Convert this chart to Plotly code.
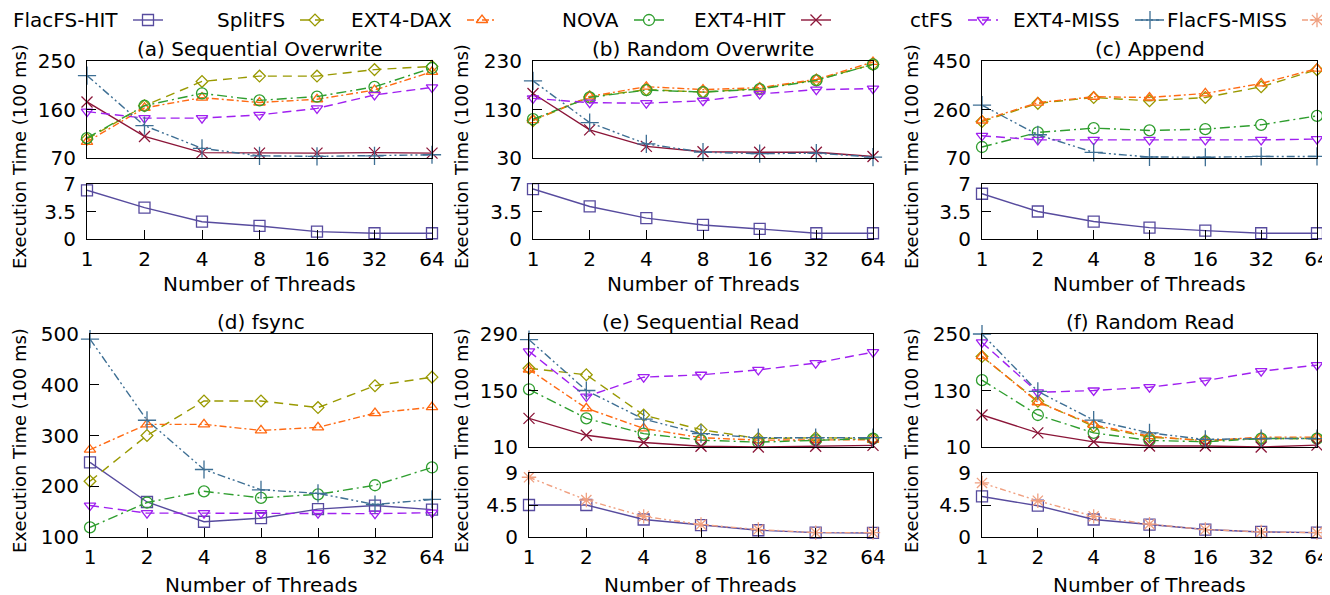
import math
import plotly.graph_objects as go

W, H = 1330, 595
OFF = 8  # page body margin of the html page

threads = [1, 2, 4, 8, 16, 32, 64]
thread_labels = ["1", "2", "4", "8", "16", "32", "64"]
series_names = ["FlacFS-HIT", "SplitFS", "EXT4-DAX", "NOVA", "EXT4-HIT", "ctFS", "EXT4-MISS", "FlacFS-MISS"]

# (a) Sequential Overwrite
a_splitfs = [105, 167, 212, 222, 222, 234, 240]
a_ext4dax = [100, 163, 182, 173, 179, 196, 230]
a_nova = [107, 167, 190, 177, 184, 202, 237]
a_ext4hit = [174, 110, 80, 79, 79, 80, 79]
a_ctfs = [156, 144, 144, 150, 162, 187, 201]
a_ext4miss = [223, 130, 88, 74, 73, 74, 76]
a_flacfs_hit = [6.2, 4.0, 2.2, 1.66, 0.94, 0.73, 0.73]

# (b) Random Overwrite
b_splitfs = [107, 156, 171, 166, 173, 191, 223]
b_ext4dax = [108, 157, 177, 171, 175, 192, 228]
b_nova = [110, 155, 170, 166, 172, 190, 223]
b_ext4hit = [163, 88, 54, 43, 42, 42, 33]
b_ctfs = [153, 144, 143, 148, 162, 171, 173]
b_ext4miss = [189, 103, 59, 42, 39, 40, 32]
b_flacfs_hit = [6.36, 4.14, 2.65, 1.79, 1.28, 0.73, 0.73]

# (c) Append
c_splitfs = [213, 284, 307, 294, 307, 349, 416]
c_ext4dax = [217, 287, 310, 307, 323, 362, 420]
c_nova = [113, 170, 187, 178, 183, 200, 235]
c_ctfs = [157, 141, 141, 141, 141, 141, 144]
c_ext4miss = [277, 161, 92, 74, 73, 76, 76]
c_flacfs_hit = [5.76, 3.5, 2.22, 1.45, 1.07, 0.73, 0.73]

# (d) fsync
d_flacfs_hit = [247, 169, 130, 137, 155, 162, 154]
d_splitfs = [210, 300, 368, 368, 355, 398, 415]
d_ext4dax = [272, 322, 322, 310, 316, 344, 356]
d_nova = [119, 168, 190, 177, 184, 202, 237]
d_ctfs = [162, 147, 147, 147, 147, 146, 148]
d_ext4miss = [490, 330, 233, 193, 186, 164, 174]

# (e) Sequential Read
e_splitfs = [205, 189, 89, 53, 31, 33, 31]
e_ext4dax = [202, 106, 56, 33, 27, 28, 28]
e_nova = [153, 81, 43, 27, 22, 27, 31]
e_ext4hit = [81, 39, 21, 12, 10, 12, 14]
e_ctfs = [247, 135, 183, 189, 201, 218, 245]
e_ext4miss = [276, 150, 79, 43, 33, 33, 33]
e_flacfs_hit = [4.5, 4.5, 2.46, 1.66, 0.95, 0.62, 0.57]
e_flacfs_miss = [8.4, 5.2, 2.9, 1.75, 1.05, 0.62, 0.62]

# (f) Random Read
f_splitfs = [202, 107, 54, 31, 24, 28, 28]
f_ext4dax = [203, 105, 57, 33, 23, 31, 31]
f_nova = [152, 78, 40, 24, 21, 28, 28]
f_ext4hit = [78, 40, 21, 12, 12, 10, 14]
f_ctfs = [232, 126, 130, 137, 151, 171, 184]
f_ext4miss = [250, 128, 67, 40, 26, 28, 28]
f_flacfs_hit = [5.7, 4.4, 2.46, 1.75, 1.05, 0.71, 0.62]
f_flacfs_miss = [7.6, 5.1, 2.9, 1.8, 1.05, 0.71, 0.62]

FONT = "DejaVu Sans"

styles = {
    "FlacFS-HIT": dict(color="#574b9e", symbol="square-open", dash="solid", size=11),
    "SplitFS": dict(color="#999900", symbol="diamond-open", dash="9px,6px", size=9),
    "EXT4-DAX": dict(color="#ff6a13", symbol="triangle-up-open", dash="7px,3px,2px,3px", size=10),
    "NOVA": dict(color="#2f9e2f", symbol="circle-open", dash="10px,4px,2px,4px", size=11),
    "EXT4-HIT": dict(color="#8b1538", symbol="x-thin-open", dash="solid", size=11),
    "ctFS": dict(color="#a020f0", symbol="triangle-down-open", dash="9px,5px", size=10),
    "EXT4-MISS": dict(color="#3e6f94", symbol="cross-thin-open", dash="8px,3px,2px,3px,2px,3px", size=13),
    "FlacFS-MISS": dict(color="#f0a080", symbol="asterisk-open", dash="6px,3px,2px,3px,2px,3px", size=12),
}

panels = [
    dict(title="(a) Sequential Overwrite", xpx=(87, 432), top=(61, 158), bottom=(184, 239),
         trange=[70, 250], tticks=[70, 160, 250], brange=[0, 7], bticks=[0, 3.5, 7],
         tseries={"SplitFS": a_splitfs, "EXT4-DAX": a_ext4dax, "NOVA": a_nova, "EXT4-HIT": a_ext4hit,
                  "ctFS": a_ctfs, "EXT4-MISS": a_ext4miss},
         bseries={"FlacFS-HIT": a_flacfs_hit}, ylab=(19, 157), xlab_y=284, title_y=49),
    dict(title="(b) Random Overwrite", xpx=(533, 873), top=(61, 158), bottom=(184, 239),
         trange=[30, 230], tticks=[30, 130, 230], brange=[0, 7], bticks=[0, 3.5, 7],
         tseries={"SplitFS": b_splitfs, "EXT4-DAX": b_ext4dax, "NOVA": b_nova, "EXT4-HIT": b_ext4hit,
                  "ctFS": b_ctfs, "EXT4-MISS": b_ext4miss},
         bseries={"FlacFS-HIT": b_flacfs_hit}, ylab=(461, 157), xlab_y=284, title_y=49),
    dict(title="(c) Append", xpx=(982, 1317), top=(61, 158), bottom=(184, 239),
         trange=[70, 450], tticks=[70, 260, 450], brange=[0, 7], bticks=[0, 3.5, 7],
         tseries={"SplitFS": c_splitfs, "EXT4-DAX": c_ext4dax, "NOVA": c_nova,
                  "ctFS": c_ctfs, "EXT4-MISS": c_ext4miss},
         bseries={"FlacFS-HIT": c_flacfs_hit}, ylab=(911, 157), xlab_y=284, title_y=49),
    dict(title="(d) fsync", xpx=(90, 432), top=(334, 537), bottom=None,
         trange=[100, 500], tticks=[100, 200, 300, 400, 500],
         tseries={"FlacFS-HIT": d_flacfs_hit, "SplitFS": d_splitfs, "EXT4-DAX": d_ext4dax, "NOVA": d_nova,
                  "ctFS": d_ctfs, "EXT4-MISS": d_ext4miss},
         bseries=None, ylab=(19, 441), xlab_y=585, title_y=322),
    dict(title="(e) Sequential Read", xpx=(529, 873), top=(334, 447), bottom=(473, 537),
         trange=[10, 290], tticks=[10, 150, 290], brange=[0, 9], bticks=[0, 4.5, 9],
         tseries={"SplitFS": e_splitfs, "EXT4-DAX": e_ext4dax, "NOVA": e_nova, "EXT4-HIT": e_ext4hit,
                  "ctFS": e_ctfs, "EXT4-MISS": e_ext4miss},
         bseries={"FlacFS-HIT": e_flacfs_hit, "FlacFS-MISS": e_flacfs_miss}, ylab=(461, 441), xlab_y=585, title_y=322),
    dict(title="(f) Random Read", xpx=(982, 1317), top=(334, 447), bottom=(473, 537),
         trange=[10, 250], tticks=[10, 130, 250], brange=[0, 9], bticks=[0, 4.5, 9],
         tseries={"SplitFS": f_splitfs, "EXT4-DAX": f_ext4dax, "NOVA": f_nova, "EXT4-HIT": f_ext4hit,
                  "ctFS": f_ctfs, "EXT4-MISS": f_ext4miss},
         bseries={"FlacFS-HIT": f_flacfs_hit, "FlacFS-MISS": f_flacfs_miss}, ylab=(911, 441), xlab_y=585, title_y=322),
]


def PX(x):
    return (x - OFF) / W


def PY(y):
    return 1 - (y - OFF) / H


fig = go.Figure()
layout = {}
annotations = []
axis_n = [0]


def tick_text(v):
    return f"{v:g}"


def add_axes(xpx, ypx, yrange, yticks, show_x):
    axis_n[0] += 1
    n = axis_n[0]
    xk = "xaxis" if n == 1 else f"xaxis{n}"
    yk = "yaxis" if n == 1 else f"yaxis{n}"
    xref = "x" if n == 1 else f"x{n}"
    yref = "y" if n == 1 else f"y{n}"
    layout[xk] = dict(
        domain=[PX(xpx[0]), PX(xpx[1])], anchor=yref, type="log",
        range=[0, math.log10(64)], tickmode="array", tickvals=threads, ticktext=thread_labels,
        showticklabels=show_x, ticks="inside" if show_x else "", ticklen=9, tickwidth=1, tickcolor="black",
        showline=True, mirror=True, linecolor="black", linewidth=1, showgrid=False, zeroline=False,
        tickfont=dict(family=FONT, size=20, color="black"), ticklabelstandoff=2,
    )
    layout[yk] = dict(
        domain=[PY(ypx[1]), PY(ypx[0])], anchor=xref, range=yrange,
        tickmode="array", tickvals=yticks, ticktext=[tick_text(v) for v in yticks],
        ticks="inside", ticklen=9, tickwidth=1, tickcolor="black",
        showline=True, mirror=True, linecolor="black", linewidth=1, showgrid=False, zeroline=False,
        tickfont=dict(family=FONT, size=20, color="black"), ticklabelstandoff=6,
    )
    return xref, yref


def add_series(name, values, xref, yref):
    st = styles[name]
    fig.add_trace(go.Scatter(
        x=threads, y=values, xaxis=xref, yaxis=yref, mode="lines+markers", name=name,
        showlegend=False, cliponaxis=False,
        line=dict(color=st["color"], width=1.4, dash=st["dash"]),
        marker=dict(symbol=st["symbol"], size=st["size"], color=st["color"],
                    line=dict(color=st["color"], width=1.3)),
    ))


for p in panels:
    has_bottom = p["bottom"] is not None
    xr, yr = add_axes(p["xpx"], p["top"], p["trange"], p["tticks"], show_x=not has_bottom)
    for name in series_names:
        if name in p["tseries"]:
            add_series(name, p["tseries"][name], xr, yr)
    if has_bottom:
        xr2, yr2 = add_axes(p["xpx"], p["bottom"], p["brange"], p["bticks"], show_x=True)
        for name in series_names:
            if name in p["bseries"]:
                add_series(name, p["bseries"][name], xr2, yr2)
    cx = (p["xpx"][0] + p["xpx"][1]) / 2
    annotations.append(dict(text=p["title"], x=PX(cx), y=PY(p["title_y"]), xref="paper", yref="paper",
                            xanchor="center", yanchor="middle", showarrow=False,
                            font=dict(family=FONT, size=20, color="black")))
    annotations.append(dict(text="Number of Threads", x=PX(cx), y=PY(p["xlab_y"]), xref="paper", yref="paper",
                            xanchor="center", yanchor="middle", showarrow=False,
                            font=dict(family=FONT, size=20, color="black")))
    annotations.append(dict(text="Execution Time (100 ms)", x=PX(p["ylab"][0]), y=PY(p["ylab"][1]),
                            xref="paper", yref="paper", xanchor="center", yanchor="middle", textangle=-90,
                            showarrow=False, font=dict(family=FONT, size=18, color="black")))

# manual legend row (gnuplot style: label, then sample)
axis_n[0] += 1
ln = axis_n[0]
layout[f"xaxis{ln}"] = dict(domain=[0, 1], range=[OFF, W + OFF], visible=False, anchor=f"y{ln}", fixedrange=True)
layout[f"yaxis{ln}"] = dict(domain=[0, 1], range=[H + OFF, OFF], visible=False, anchor=f"x{ln}", fixedrange=True)
leg_start, leg_step, leg_len, leg_y = 133, 167, 30, 20
for i, name in enumerate(series_names):
    st = styles[name]
    s = leg_start + leg_step * i
    fig.add_trace(go.Scatter(x=[s, s + leg_len], y=[leg_y, leg_y], xaxis=f"x{ln}", yaxis=f"y{ln}",
                             mode="lines", showlegend=False, hoverinfo="skip", cliponaxis=False,
                             line=dict(color=st["color"], width=1.4, dash=st["dash"])))
    fig.add_trace(go.Scatter(x=[s + leg_len / 2], y=[leg_y], xaxis=f"x{ln}", yaxis=f"y{ln}",
                             mode="markers", showlegend=False, hoverinfo="skip", cliponaxis=False,
                             marker=dict(symbol=st["symbol"], size=st["size"], color=st["color"],
                                         line=dict(color=st["color"], width=1.3))))
    annotations.append(dict(text=name, x=PX(s - 13), y=PY(leg_y), xref="paper", yref="paper",
                            xanchor="right", yanchor="middle", showarrow=False,
                            font=dict(family=FONT, size=20, color="black")))

fig.update_layout(
    width=W, height=H, margin=dict(l=0, r=0, t=0, b=0, pad=0, autoexpand=False),
    paper_bgcolor="white", plot_bgcolor="rgba(0,0,0,0)", showlegend=False,
    annotations=annotations, font=dict(family=FONT, size=20, color="black"),
    **layout,
)

fig.write_html("out.html")
